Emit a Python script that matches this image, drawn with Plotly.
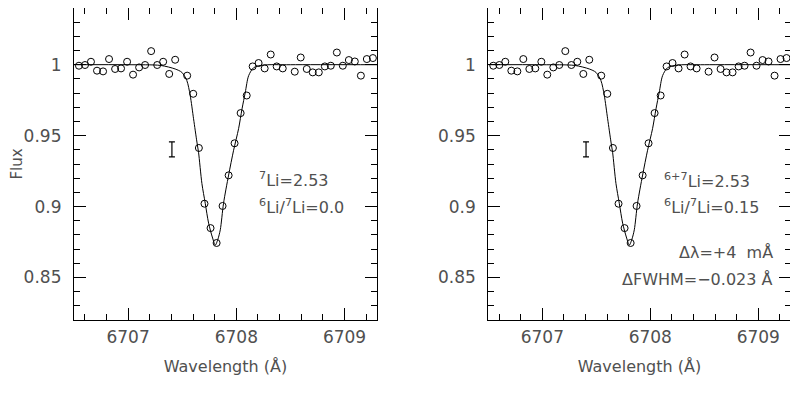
import plotly.graph_objects as go

# observed spectrum (same in both panels)
wave_obs = [6706.546, 6706.602, 6706.657, 6706.713, 6706.769, 6706.824, 6706.880, 6706.935,
            6706.991, 6707.046, 6707.102, 6707.157, 6707.213, 6707.269, 6707.324, 6707.380,
            6707.435, 6707.546, 6707.602, 6707.654, 6707.706, 6707.762, 6707.818, 6707.873,
            6707.929, 6707.984, 6708.040, 6708.096, 6708.151, 6708.206, 6708.262, 6708.318,
            6708.373, 6708.429, 6708.540, 6708.595, 6708.651, 6708.706, 6708.762, 6708.818,
            6708.873, 6708.929, 6708.984, 6709.040, 6709.095, 6709.151, 6709.206, 6709.262]
flux_obs = [0.9993, 0.9998, 1.0021, 0.9958, 0.9953, 1.0040, 0.9970, 0.9974,
            1.0021, 0.9930, 0.9981, 0.9998, 1.0096, 0.9998, 1.0021, 0.9935,
            1.0035, 0.9923, 0.9795, 0.9413, 0.9020, 0.8848, 0.8743, 0.9004,
            0.9220, 0.9446, 0.9659, 0.9783, 0.9988, 1.0012, 0.9974, 1.0072,
            0.9988, 0.9974, 0.9951, 1.0051, 0.9970, 0.9946, 0.9946, 0.9988,
            0.9993, 1.0086, 0.9993, 1.0033, 1.0023, 0.9923, 1.0040, 1.0047]

# synthetic profile
model_wave = [6706.5, 6707.0, 6707.3, 6707.435, 6707.497, 6707.543, 6707.574, 6707.605,
              6707.636, 6707.651, 6707.682, 6707.713, 6707.744, 6707.781, 6707.806, 6707.830,
              6707.852, 6707.882, 6707.929, 6707.975, 6708.021, 6708.053, 6708.083, 6708.114,
              6708.160, 6708.241, 6708.5, 6709.3]
model_flux = [1.0, 1.0, 0.9995, 0.9970, 0.9946, 0.9888, 0.9783, 0.9619,
              0.9455, 0.9383, 0.9163, 0.9023, 0.8883, 0.8778, 0.8728, 0.8770,
              0.8836, 0.9023, 0.9222, 0.9397, 0.9549, 0.9689, 0.9806, 0.9923,
              0.9979, 0.9997, 1.0, 1.0]

# representative error bar
err_wave = [6707.405]
err_flux = [0.9403]
err_half = [0.0053]

x_ticks = [6707, 6708, 6709]
y_ticks = [0.85, 0.9, 0.95, 1.0]
y_ticklabels = ["0.85", "0.9", "0.95", "1"]

FONT = "DejaVu Sans"
TXT = "#505050"

fig = go.Figure()
for i, (xa, ya) in enumerate([("x", "y"), ("x2", "y2")]):
    fig.add_trace(go.Scatter(x=model_wave, y=model_flux, mode="lines",
                             line=dict(color="black", width=1, shape="spline", smoothing=0.8),
                             xaxis=xa, yaxis=ya, showlegend=False, hoverinfo="skip"))
    fig.add_trace(go.Scatter(x=wave_obs, y=flux_obs, mode="markers",
                             marker=dict(symbol="circle-open", size=7, color="black",
                                         line=dict(width=1, color="black")),
                             xaxis=xa, yaxis=ya, showlegend=False))
    fig.add_trace(go.Scatter(x=err_wave, y=err_flux, mode="markers",
                             marker=dict(size=0.1, color="black", opacity=0),
                             error_y=dict(type="data", array=err_half, color="black",
                                          thickness=1.2, width=3),
                             xaxis=xa, yaxis=ya, showlegend=False))

xcommon = dict(range=[6706.5, 6709.3], tickvals=x_ticks, ticks="inside", ticklen=12,
               tickwidth=1, tickcolor="black", mirror="ticks", showline=True,
               linecolor="black", linewidth=1.2, showgrid=False, zeroline=False,
               automargin=False,
               minor=dict(dtick=0.2, ticks="inside", ticklen=6, tickcolor="black",
                          tickwidth=1, showgrid=False),
               tickfont=dict(family=FONT, size=17, color=TXT), ticklabelstandoff=1)
ycommon = dict(range=[0.82, 1.04], tickvals=y_ticks, ticktext=y_ticklabels, ticks="inside",
               ticklen=12, tickwidth=1, tickcolor="black", mirror="ticks", showline=True,
               linecolor="black", linewidth=1.2, showgrid=False, zeroline=False,
               automargin=False,
               minor=dict(dtick=0.01, ticks="inside", ticklen=6, tickcolor="black",
                          tickwidth=1, showgrid=False),
               tickfont=dict(family=FONT, size=17, color=TXT), ticklabelstandoff=8)

title_x = dict(text="Wavelength (Å)", font=dict(family=FONT, size=16, color=TXT), standoff=15)

# the page body adds an 8px offset, so the figure is 8px smaller than the window
fig.update_layout(
    width=790, height=391, paper_bgcolor="white", plot_bgcolor="white",
    margin=dict(l=0, r=0, t=0, b=79, autoexpand=False),
    xaxis=dict(domain=[0.0835, 0.4671], anchor="y", title=title_x, **xcommon),
    yaxis=dict(domain=[0, 1], anchor="x",
               title=dict(text="Flux", font=dict(family=FONT, size=15, color=TXT), standoff=22),
               **ycommon),
    xaxis2=dict(domain=[0.6080, 0.9907], anchor="y2", title=title_x, **xcommon),
    yaxis2=dict(domain=[0, 1], anchor="x2", **ycommon),
)

afont = dict(family=FONT, size=16, color=TXT)
ann = [
    dict(x=6708.19, y=0.9194, xref="x", yref="y", text="<sup>7</sup>Li=2.53", xanchor="left"),
    dict(x=6708.19, y=0.8999, xref="x", yref="y", text="<sup>6</sup>Li/<sup>7</sup>Li=0.0", xanchor="left"),
    dict(x=6708.106, y=0.9187, xref="x2", yref="y2", text="<sup>6+7</sup>Li=2.53", xanchor="left"),
    dict(x=6708.106, y=0.8999, xref="x2", yref="y2", text="<sup>6</sup>Li/<sup>7</sup>Li=0.15", xanchor="left"),
    dict(x=6709.155, y=0.8675, xref="x2", yref="y2", text="Δλ=+4\u00a0\u00a0mÅ", xanchor="right"),
    dict(x=6709.155, y=0.8485, xref="x2", yref="y2", text="ΔFWHM=−0.023\u00a0Å", xanchor="right"),
]
for a in ann:
    fig.add_annotation(showarrow=False, yanchor="middle", font=afont, **a)

fig.write_html("out.html")
